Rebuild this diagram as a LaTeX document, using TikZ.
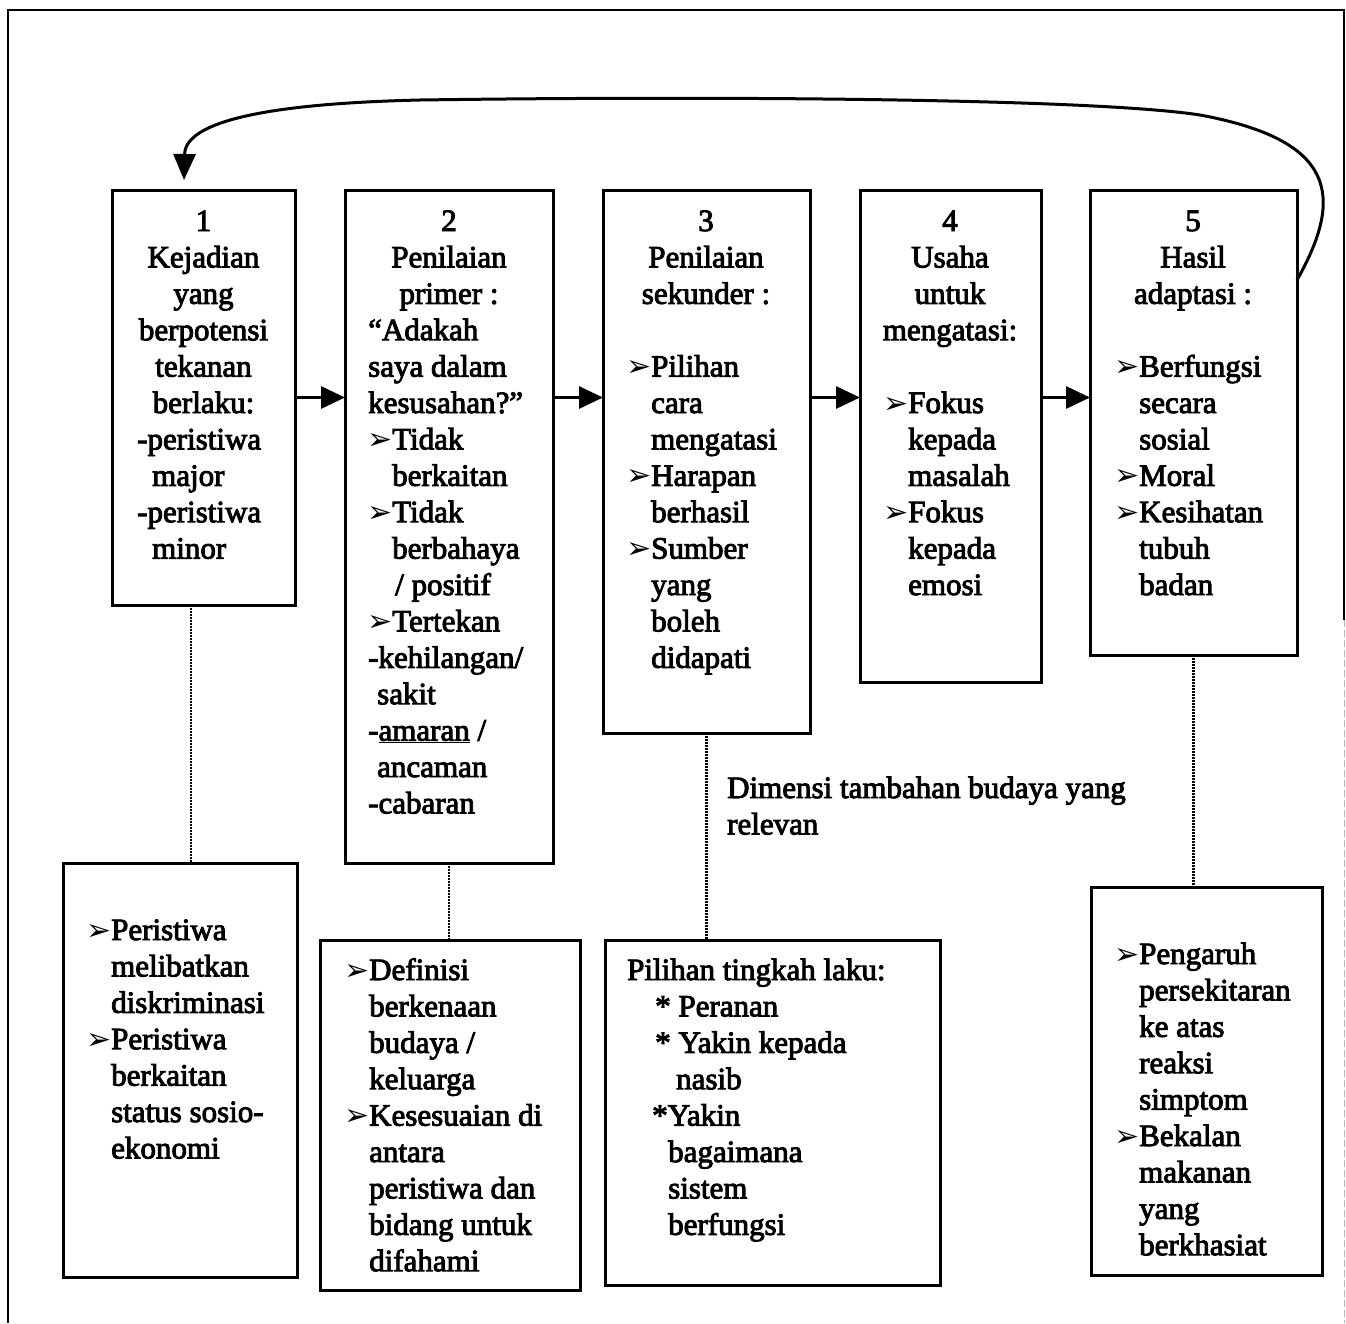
\documentclass[tikz,border=0pt]{standalone}
\usepackage{fontspec}
\usetikzlibrary{arrows.meta}
\newfontfamily\scanfont{Liberation Serif}[FakeBold=3]
\newfontfamily\dingfont{DejaVu Sans}
\newcommand\tf{\scanfont\fontsize{31}{36.4}\selectfont}
\newcommand\arr{\makebox[24pt][l]{\hspace*{-1pt}\dingfont\fontsize{30}{30}\selectfont ➢}}
\newcommand\ind{\hspace*{24pt}}
% left-aligned lines: #1 name, #2 x, #3 first baseline y, #4 lines
\newcommand\Lines[4]{\foreach \lin [count=\i] in {#4}
  \node[txt, anchor=base west] (#1\i) at (#2, {#3+36.4*(\i-1)}) {\lin};}
% centred lines
\newcommand\CLines[4]{\foreach \lin [count=\i] in {#4}
  \node[txt, anchor=base] (#1\i) at (#2, {#3+36.4*(\i-1)}) {\lin};}
\begin{document}
\begin{tikzpicture}[x=1pt,y=-1pt,
  box/.style={draw, line width=3pt, rectangle, inner sep=0pt, outer sep=0pt},
  txt/.style={inner sep=0pt, font=\tf},
  flow/.style={line width=3pt, -{Triangle[length=24pt,width=22pt]}},
  dotline/.style={line width=2.2pt, dash pattern=on 2pt off 1pt},
  frame/.style={line width=2.6pt}]
\useasboundingbox (0,0) rectangle (1346,1323);

% outer frame
\draw[frame] (8,1323) -- (8,10) -- (1344,10) -- (1344,620);
\draw[gray!55, line width=1pt, dash pattern=on 7pt off 3pt] (1344,620) -- (1344,1323);

% top row boxes
\node[box, minimum width=183pt, minimum height=415pt] (b1) at (203.5,397.5) {};
\node[box, minimum width=208pt, minimum height=673pt] (b2) at (449,526.5) {};
\node[box, minimum width=207pt, minimum height=543pt] (b3) at (706.5,461.5) {};
\node[box, minimum width=181pt, minimum height=492pt] (b4) at (950.5,436) {};
\node[box, minimum width=207pt, minimum height=465pt] (b5) at (1193.5,422.5) {};

% bottom row boxes
\node[box, minimum width=234pt, minimum height=414pt] (c1) at (180,1070) {};
\node[box, minimum width=260pt, minimum height=350pt] (c2) at (450,1115) {};
\node[box, minimum width=335pt, minimum height=345pt] (c3) at (772.5,1112.5) {};
\node[box, minimum width=231pt, minimum height=388pt] (c5) at (1206.5,1081) {};

% flow arrows
\draw[flow] (b1.east) -- (b2.west |- b1.east);
\draw[flow] (b2.east |- b1.east) -- (b3.west |- b1.east);
\draw[flow] (b3.east |- b1.east) -- (b4.west |- b1.east);
\draw[flow] (b4.east |- b1.east) -- (b5.west |- b1.east);

% feedback loop
\coordinate (loopstart) at (1297,280);
\coordinate (loopend) at (184,180);
\draw[line width=3pt, -{Triangle[length=26pt,width=22pt]}]
  (loopstart) .. controls (1345,195) and (1335,140) .. (1200,115)
  .. controls (1090,98) and (700,96) .. (420,100)
  .. controls (250,104) and (185,125) .. (loopend);

% dotted links
\coordinate (d1x) at (191,0);
\draw[dotline] (b1.south -| d1x) -- (c1.north -| d1x);
\draw[dotline] (b2.south) -- (b2.south |- c2.north);
\draw[dotline] (b3.south) -- (b3.south |- c3.north);
\draw[dotline] (b5.south) -- (b5.south |- c5.north);

% box 1 text
\CLines{t1h}{203.5}{231}{1,Kejadian,yang,berpotensi,tekanan,berlaku:}
\Lines{t1b}{137}{449.4}{-peristiwa,\hspace*{15pt}major,-peristiwa,\hspace*{15pt}minor}

% box 2 text
\CLines{t2h}{449}{231}{2,Penilaian,primer :}
\Lines{t2b}{368}{340.2}{“Adakah,saya dalam,kesusahan?”,\arr Tidak,\ind berkaitan,\arr Tidak,\ind berbahaya,\hspace*{27pt}/ positif,\arr Tertekan,-kehilangan/,\hspace*{9pt}sakit,-\underline{amaran} /,\hspace*{9pt}ancaman,-cabaran}

% box 3 text
\CLines{t3h}{706}{231}{3,Penilaian,sekunder :}
\Lines{t3b}{627}{376.6}{\arr Pilihan,\ind cara,\ind mengatasi,\arr Harapan,\ind berhasil,\arr Sumber,\ind yang,\ind boleh,\ind didapati}

% box 4 text
\CLines{t4h}{950}{231}{4,Usaha,untuk,mengatasi:}
\Lines{t4b}{884}{413}{\arr Fokus,\ind kepada,\ind masalah,\arr Fokus,\ind kepada,\ind emosi}

% box 5 text
\CLines{t5h}{1193}{231}{5,Hasil,adaptasi :}
\Lines{t5b}{1115}{376.6}{\arr Berfungsi,\ind secara,\ind sosial,\arr Moral,\arr Kesihatan,\ind tubuh,\ind badan}

% bottom box texts
\Lines{u1}{87}{940}{\arr Peristiwa,\ind melibatkan,\ind diskriminasi,\arr Peristiwa,\ind berkaitan,\ind status sosio-,\ind ekonomi}
\Lines{u2}{345}{980}{\arr Definisi,\ind berkenaan,\ind budaya /,\ind keluarga,\arr Kesesuaian di,\ind antara,\ind peristiwa dan,\ind bidang untuk,\ind difahami}
\Lines{u3}{627}{980}{Pilihan tingkah laku:,\hspace*{28pt}* Peranan,\hspace*{28pt}* Yakin kepada,\hspace*{49pt}nasib,\hspace*{25pt}*Yakin,\hspace*{41pt}bagaimana,\hspace*{41pt}sistem,\hspace*{41pt}berfungsi}
\Lines{u5}{1115}{964}{\arr Pengaruh,\ind persekitaran,\ind ke atas,\ind reaksi,\ind simptom,\arr Bekalan,\ind makanan,\ind yang,\ind berkhasiat}

% side label
\Lines{dim}{727}{798}{Dimensi tambahan budaya yang,relevan}
\end{tikzpicture}
\end{document}
